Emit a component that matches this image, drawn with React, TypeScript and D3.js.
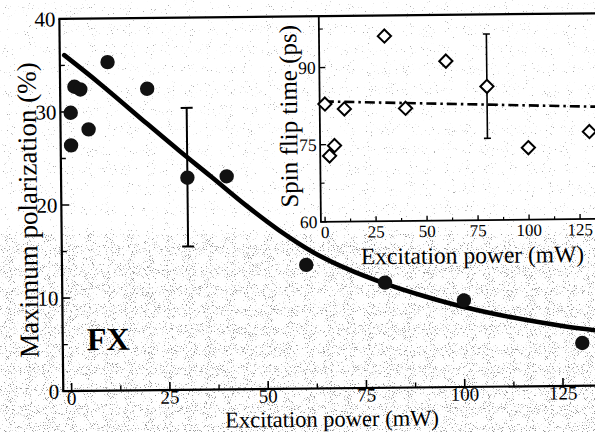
import React from 'react';
import * as d3 from 'd3';

// ---- Main panel data: maximum polarization vs excitation power ----
const powerMain = [0.5, 0.5, 1.5, 3, 5, 10, 20, 30, 40, 60, 80, 100, 130];
const polarization = [29.9, 26.4, 32.7, 32.4, 28.1, 35.3, 32.4, 22.8, 22.9, 13.3, 11.3, 9.3, 4.6];
const polErrPower = [30];
const polErrLow = [15.4];
const polErrHigh = [30.3];
const fitPower = [-1, 8, 20, 28, 36, 45, 53, 62, 70, 80, 90, 100, 112.5, 125, 136];
const fitPol = [36.1, 33.0, 28.6, 25.7, 22.9, 19.7, 17.1, 14.6, 12.9, 11.2, 9.8, 8.6, 7.4, 6.45, 5.8];
const mainXTicks = [0, 25, 50, 75, 100, 125];
const mainXMinor = [12.5, 37.5, 62.5, 87.5, 112.5];
const mainYTicks = [0, 10, 20, 30, 40];
const mainYMinor = [5, 15, 25, 35];

// ---- Inset data: spin flip time vs excitation power ----
const powerInset = [0.5, 2.5, 5, 10, 30, 40, 60, 80, 100, 130];
const flipTime = [82.9, 72.8, 74.8, 81.9, 96.0, 81.9, 91.0, 86.0, 74.0, 77.0];
const flipErrPower = [80];
const flipErrLow = [75.9];
const flipErrHigh = [96.2];
const avgPower = [0, 136];
const avgTime = [83.4, 81.8];
const insetXTicks = [0, 25, 50, 75, 100, 125];
const insetXMinor = [12.5, 37.5, 62.5, 87.5, 112.5];
const insetYTicks = [60, 75, 90];
const insetYMinor = [67.5, 82.5, 97.5];

const FONT = '"Liberation Serif", "Times New Roman", serif';

export default function App() {
  // main scales
  const x = d3.scaleLinear().domain([0, 125]).range([69.8, 561.2]);
  const y = d3.scaleLinear().domain([0, 40]).range([388.5, 16.2]);
  const left = 61.4;
  const bottom = y(0);
  const top = y(40);
  const rightEdge = 660;

  // inset scales
  const xi = d3.scaleLinear().domain([0, 125]).range([325, 580]);
  const yi = d3.scaleLinear().domain([60, 100]).range([221.8, 16.2]);
  const iLeft = 320.8;
  const iBottom = yi(60);

  const fitLine = d3
    .line<number>()
    .x((d, i) => x(fitPower[i]))
    .y((d) => y(d))
    .curve(d3.curveCatmullRom.alpha(0.5));

  const avgLine = d3
    .line<number>()
    .x((d, i) => xi(avgPower[i]))
    .y((d) => yi(d));

  const diamond = (cx: number, cy: number, r: number) =>
    `M${cx},${cy - r}L${cx + r},${cy}L${cx},${cy + r}L${cx - r},${cy}Z`;

  return (
    <svg
      width={595}
      height={432}
      style={{ position: 'absolute', left: 0, top: 0, background: '#fff' }}
      fontFamily={FONT}
    >
      <defs>
        <filter id="speckle" x="0" y="0" width="1" height="1">
          <feTurbulence type="fractalNoise" baseFrequency="0.95" numOctaves="2" seed="7" />
          <feColorMatrix
            type="matrix"
            values="0 0 0 0 0.3  0 0 0 0 0.3  0 0 0 0 0.3  10 0 0 0 -6.2"
          />
        </filter>
        <filter id="speckleLight" x="0" y="0" width="1" height="1">
          <feTurbulence type="fractalNoise" baseFrequency="0.95" numOctaves="2" seed="3" />
          <feColorMatrix
            type="matrix"
            values="0 0 0 0 0.4  0 0 0 0 0.4  0 0 0 0 0.4  10 0 0 0 -7.2"
          />
        </filter>
      </defs>
      <rect x={0} y={0} width={595} height={432} fill="#fff" />
      <rect x={0} y={0} width={595} height={234} filter="url(#speckleLight)" />
      <rect x={0} y={234} width={595} height={198} filter="url(#speckle)" />

      <g transform="rotate(-0.6, 320, 210)">
        {/* main frame */}
        <line x1={left} x2={left} y1={top} y2={bottom} stroke="#000" strokeWidth={2.2} />
        <line x1={left - 1} x2={rightEdge} y1={bottom} y2={bottom} stroke="#000" strokeWidth={2.2} />
        <line x1={left - 1} x2={rightEdge} y1={top} y2={top} stroke="#000" strokeWidth={2.2} />

        {/* main y ticks */}
        {mainYTicks.map((t) => (
          <g key={'my' + t}>
            <line x1={left} x2={left + 8} y1={y(t)} y2={y(t)} stroke="#000" strokeWidth={1.6} />
            <text x={left - 4} y={y(t)} dy="0.35em" textAnchor="end" fontSize={21}>
              {t}
            </text>
          </g>
        ))}
        {mainYMinor.map((t) => (
          <line key={'mym' + t} x1={left} x2={left + 5} y1={y(t)} y2={y(t)} stroke="#000" strokeWidth={1.4} />
        ))}

        {/* main x ticks */}
        {mainXTicks.map((t) => (
          <g key={'mx' + t}>
            <line x1={x(t)} x2={x(t)} y1={bottom} y2={bottom - 8} stroke="#000" strokeWidth={1.6} />
            <text x={x(t)} y={402} textAnchor="middle" fontSize={19}>
              {t}
            </text>
          </g>
        ))}
        {mainXMinor.map((t) => (
          <line key={'mxm' + t} x1={x(t)} x2={x(t)} y1={bottom} y2={bottom - 5} stroke="#000" strokeWidth={1.4} />
        ))}

        {/* axis titles */}
        <text x={329.8} y={426.6} textAnchor="middle" fontSize={22.5}>
          Excitation power (mW)
        </text>
        <text transform={`translate(37, 207) rotate(-90)`} textAnchor="middle" fontSize={27}>
          Maximum polarization (%)
        </text>
        <text x={85.6} y={347.8} fontSize={32} fontWeight="bold">
          FX
        </text>

        {/* fit curve */}
        <path d={fitLine(fitPol) || ''} fill="none" stroke="#000" strokeWidth={4.6} strokeLinecap="round" />

        {/* error bar */}
        {polErrPower.map((p, i) => (
          <g key={'pe' + i} stroke="#000" strokeWidth={2}>
            <line x1={x(p)} x2={x(p)} y1={y(polErrLow[i])} y2={y(polErrHigh[i])} />
            <line x1={x(p) - 6} x2={x(p) + 6} y1={y(polErrLow[i])} y2={y(polErrLow[i])} />
            <line x1={x(p) - 6} x2={x(p) + 6} y1={y(polErrHigh[i])} y2={y(polErrHigh[i])} />
          </g>
        ))}

        {/* data points */}
        {polarization.map((v, i) => (
          <circle key={'pt' + i} cx={x(powerMain[i])} cy={y(v)} r={7.2} fill="#111" />
        ))}

        {/* ---------- inset ---------- */}
        <line x1={iLeft} x2={iLeft} y1={top} y2={iBottom} stroke="#000" strokeWidth={1.8} />
        <line x1={iLeft - 0.9} x2={rightEdge} y1={iBottom} y2={iBottom} stroke="#000" strokeWidth={1.8} />

        {insetYTicks.map((t) => (
          <g key={'iy' + t}>
            <line x1={iLeft} x2={iLeft + 6} y1={yi(t)} y2={yi(t)} stroke="#000" strokeWidth={1.4} />
            <text x={iLeft - 3.5} y={yi(t)} dy="0.35em" textAnchor="end" fontSize={17.5}>
              {t}
            </text>
          </g>
        ))}
        {insetYMinor.map((t) => (
          <line key={'iym' + t} x1={iLeft} x2={iLeft + 4} y1={yi(t)} y2={yi(t)} stroke="#000" strokeWidth={1.2} />
        ))}
        {insetXTicks.map((t) => (
          <g key={'ix' + t}>
            <line x1={xi(t)} x2={xi(t)} y1={iBottom} y2={iBottom - 5} stroke="#000" strokeWidth={1.4} />
            <text x={xi(t)} y={238} textAnchor="middle" fontSize={17}>
              {t}
            </text>
          </g>
        ))}
        {insetXMinor.map((t) => (
          <line key={'ixm' + t} x1={xi(t)} x2={xi(t)} y1={iBottom} y2={iBottom - 3} stroke="#000" strokeWidth={1.2} />
        ))}

        <text x={472} y={264.8} textAnchor="middle" fontSize={23.5}>
          Excitation power (mW)
        </text>
        <text transform={`translate(298, 116) rotate(-90)`} textAnchor="middle" fontSize={25}>
          Spin flip time (ps)
        </text>

        {/* average line */}
        <path
          d={avgLine(avgTime) || ''}
          fill="none"
          stroke="#000"
          strokeWidth={2.6}
          strokeDasharray="10,4,2.5,4"
        />

        {/* inset error bar */}
        {flipErrPower.map((p, i) => (
          <g key={'fe' + i} stroke="#000" strokeWidth={1.6}>
            <line x1={xi(p)} x2={xi(p)} y1={yi(flipErrLow[i])} y2={yi(flipErrHigh[i])} />
            <line x1={xi(p) - 3.5} x2={xi(p) + 3.5} y1={yi(flipErrLow[i])} y2={yi(flipErrLow[i])} />
            <line x1={xi(p) - 3.5} x2={xi(p) + 3.5} y1={yi(flipErrHigh[i])} y2={yi(flipErrHigh[i])} />
          </g>
        ))}

        {flipTime.map((v, i) => (
          <path
            key={'d' + i}
            d={diamond(xi(powerInset[i]), yi(v), 6.6)}
            fill="#fff"
            stroke="#000"
            strokeWidth={2}
          />
        ))}
      </g>
    </svg>
  );
}
